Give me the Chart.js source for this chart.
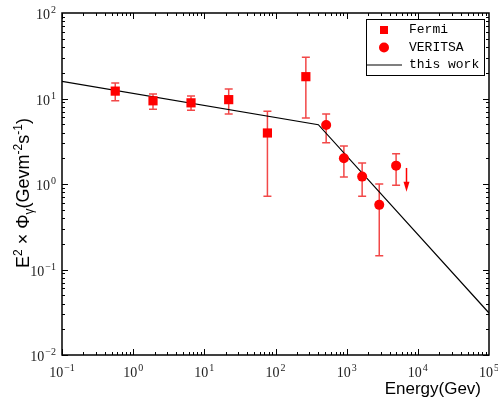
<!DOCTYPE html>
<html>
<head>
<meta charset="utf-8">
<script src="https://cdn.jsdelivr.net/npm/chart.js@4.4.0/dist/chart.umd.min.js"></script>
<style>
  body { margin: 0; background: #fff; }
  #wrap { width: 498px; height: 399px; position: relative; }
</style>
</head>
<body>
<div id="wrap"><canvas id="myChart"></canvas></div>
<script>
// Fermi points (GeV, GeV m^-2 s^-1) with error bar ends
const fermiX = [0.56, 1.9, 6.5, 22, 77, 267];
const fermiY = [12.2, 9.4, 8.9, 9.7, 3.95, 18];
const fermiHi = [15.2, 11.3, 10.7, 12.9, 7.1, 30.3];
const fermiLo = [9.4, 7.5, 7.3, 6.6, 0.72, 5.9];

// VERITAS points
const veritasX = [515, 914, 1650, 2870, 4950];
const veritasY = [4.9, 2.0, 1.22, 0.57, 1.64];
const veritasHi = [6.6, 2.78, 1.76, 1.0, 2.26];
const veritasLo = [3.04, 1.21, 0.72, 0.145, 0.97];

// upper limit arrow
const limitX = [6930];
const limitTop = [1.54];
const limitBottom = [0.81];

// model line ("this work")
const modelX = [0.1, 400, 1e5];
const modelY = [15.9, 4.94, 0.031];

const xTickExps = [-1, 0, 1, 2, 3, 4, 5];
const yTickExps = [-2, -1, 0, 1, 2];

const toPts = (xs, ys) => xs.map((x, i) => ({ x: x, y: ys[i] }));

const RED = '#ff0000';
const BAR = '#f24848';

const decor = {
  id: 'decor',
  beforeDatasetsDraw(chart) {
    const ctx = chart.ctx;
    const xs = chart.scales.x, ys = chart.scales.y;
    ctx.save();
    ctx.strokeStyle = BAR;
    ctx.lineWidth = 1.5;
    const bars = (X, Hi, Lo) => {
      X.forEach((v, i) => {
        const px = xs.getPixelForValue(v);
        const top = ys.getPixelForValue(Hi[i]);
        const bot = ys.getPixelForValue(Lo[i]);
        ctx.beginPath();
        ctx.moveTo(px, top); ctx.lineTo(px, bot);
        ctx.moveTo(px - 4, top); ctx.lineTo(px + 4, top);
        ctx.moveTo(px - 4, bot); ctx.lineTo(px + 4, bot);
        ctx.stroke();
      });
    };
    bars(fermiX, fermiHi, fermiLo);
    bars(veritasX, veritasHi, veritasLo);

    // arrow
    ctx.strokeStyle = RED;
    ctx.fillStyle = RED;
    limitX.forEach((v, i) => {
      const px = xs.getPixelForValue(v);
      const top = ys.getPixelForValue(limitTop[i]);
      const bot = ys.getPixelForValue(limitBottom[i]);
      ctx.lineWidth = 1.5;
      ctx.beginPath();
      ctx.moveTo(px, top); ctx.lineTo(px, bot - 6);
      ctx.stroke();
      ctx.beginPath();
      ctx.moveTo(px - 3, bot - 10); ctx.lineTo(px + 3, bot - 10); ctx.lineTo(px, bot);
      ctx.closePath();
      ctx.fill();
    });
    ctx.restore();
  },
  afterDraw(chart) {
    const ctx = chart.ctx;
    const a = chart.chartArea;
    const xs = chart.scales.x, ys = chart.scales.y;
    ctx.save();

    // frame
    ctx.strokeStyle = '#000';
    ctx.lineWidth = 1.5;
    ctx.strokeRect(a.left, a.top, a.right - a.left, a.bottom - a.top);

    // inward ticks on all four sides
    ctx.lineWidth = 1;
    ctx.beginPath();
    for (let e = -1; e < 5; e++) {
      for (let m = 1; m <= 9; m++) {
        const px = Math.round(xs.getPixelForValue(m * Math.pow(10, e))) + 0.5;
        const len = m === 1 ? 6 : 3;
        ctx.moveTo(px, a.bottom); ctx.lineTo(px, a.bottom - len);
        ctx.moveTo(px, a.top); ctx.lineTo(px, a.top + len);
      }
    }
    for (let e = -2; e < 2; e++) {
      for (let m = 1; m <= 9; m++) {
        const py = Math.round(ys.getPixelForValue(m * Math.pow(10, e))) + 0.5;
        const len = m === 1 ? 6 : 3;
        ctx.moveTo(a.left, py); ctx.lineTo(a.left + len, py);
        ctx.moveTo(a.right, py); ctx.lineTo(a.right - len, py);
      }
    }
    ctx.stroke();

    // tick labels 10^n
    const base = '14px "Liberation Serif", "DejaVu Serif", serif';
    const sup = '10px "Liberation Serif", "DejaVu Serif", serif';
    ctx.fillStyle = '#222';
    ctx.textBaseline = 'alphabetic';
    ctx.textAlign = 'left';
    const label = (exp, x, y, align) => {
      const s = exp < 0 ? '\u2212' + Math.abs(exp) : String(exp);
      ctx.font = base;
      const w1 = ctx.measureText('10').width;
      ctx.font = sup;
      const w2 = ctx.measureText(s).width;
      const total = w1 + w2 + 1;
      let x0 = align === 'center' ? x - total / 2 : x - total;
      ctx.font = base;
      ctx.fillText('10', x0, y);
      ctx.font = sup;
      ctx.fillText(s, x0 + w1 + 1, y - 6);
    };
    xTickExps.forEach(e => label(e, xs.getPixelForValue(Math.pow(10, e)), 377, 'center'));
    yTickExps.forEach(e => label(e, 56, ys.getPixelForValue(Math.pow(10, e)) + 6, 'right'));

    // axis titles
    ctx.fillStyle = '#000';
    ctx.font = '17px "Liberation Sans", Arial, sans-serif';
    ctx.textAlign = 'right';
    ctx.fillText('Energy(Gev)', 481, 394);

    const parts = [
      ['E', 18, 0], ['2', 12, -7], [' \u00d7 ', 18, 0], ['\u03a6', 18, 0], ['\u03b3', 12, 4],
      ['(Gevm', 18, 0], ['-2', 12, -7], ['s', 18, 0], ['-1', 12, -7], [')', 18, 0]
    ];
    ctx.translate(22, 193);
    ctx.rotate(-Math.PI / 2);
    ctx.textAlign = 'left';
    let tw = 0;
    parts.forEach(p => { ctx.font = p[1] + 'px "Liberation Sans", Arial, sans-serif'; tw += ctx.measureText(p[0]).width; });
    let cx = -tw / 2;
    parts.forEach(p => {
      ctx.font = p[1] + 'px "Liberation Sans", Arial, sans-serif';
      ctx.fillText(p[0], cx, 7 + p[2]);
      cx += ctx.measureText(p[0]).width;
    });
    ctx.setTransform(1, 0, 0, 1, 0, 0);

    // legend
    const lx = 366, ly = 19, lw = 118, lh = 56;
    ctx.fillStyle = '#fff';
    ctx.fillRect(lx, ly, lw, lh);
    ctx.strokeStyle = '#000';
    ctx.lineWidth = 1;
    ctx.strokeRect(lx + 0.5, ly + 0.5, lw, lh);
    ctx.fillStyle = RED;
    ctx.fillRect(380, 26, 8, 8);
    ctx.beginPath();
    ctx.arc(384, 47.5, 5, 0, Math.PI * 2);
    ctx.fill();
    ctx.strokeStyle = '#000';
    ctx.lineWidth = 1.2;
    ctx.beginPath();
    ctx.moveTo(367, 65); ctx.lineTo(402, 65);
    ctx.stroke();
    ctx.fillStyle = '#000';
    ctx.font = '13px "Liberation Mono", "DejaVu Sans Mono", monospace';
    ctx.textAlign = 'left';
    ctx.textBaseline = 'middle';
    ctx.fillText('Fermi', 409, 30);
    ctx.fillText('VERITSA', 409, 47.5);
    ctx.fillText('this work', 409, 65);
    ctx.restore();
  }
};

new Chart(document.getElementById('myChart'), {
  type: 'scatter',
  data: {
    datasets: [
      {
        label: 'Fermi',
        data: toPts(fermiX, fermiY),
        pointStyle: 'rect',
        pointRadius: 6.5,
        backgroundColor: RED,
        borderColor: RED,
        borderWidth: 0
      },
      {
        label: 'VERITSA',
        data: toPts(veritasX, veritasY),
        pointStyle: 'circle',
        pointRadius: 5,
        backgroundColor: RED,
        borderColor: RED,
        borderWidth: 0
      },
      {
        label: 'this work',
        data: toPts(modelX, modelY),
        showLine: true,
        pointRadius: 0,
        borderColor: '#000',
        borderWidth: 1.2
      }
    ]
  },
  options: {
    responsive: true,
    maintainAspectRatio: false,
    animation: false,
    layout: { padding: { top: 13, right: 9, left: 0, bottom: 0 } },
    plugins: { legend: { display: false }, tooltip: { enabled: false } },
    scales: {
      x: {
        type: 'logarithmic',
        min: 0.1,
        max: 1e5,
        grid: { display: false },
        border: { display: false },
        ticks: { display: false },
        afterFit: (s) => { s.height = 44; }
      },
      y: {
        type: 'logarithmic',
        min: 0.01,
        max: 100,
        grid: { display: false },
        border: { display: false },
        ticks: { display: false },
        afterFit: (s) => { s.width = 62; }
      }
    }
  },
  plugins: [decor]
});
</script>
</body>
</html>
